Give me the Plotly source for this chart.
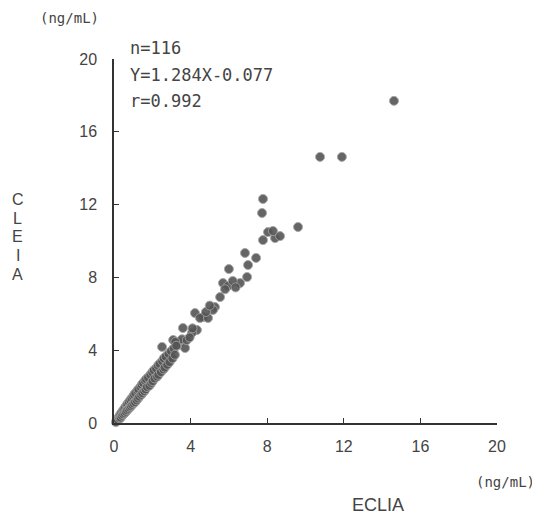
import plotly.graph_objects as go

# ECLIA (x) vs CLEIA (y), ng/mL, n=116
eclia = [
    14.62, 10.76, 11.90, 9.61, 7.78, 7.73, 8.04, 7.78, 8.41, 8.67, 8.30,
    6.84, 7.42, 7.00, 6.00, 6.95, 5.69, 5.95, 6.58, 5.54, 5.27, 5.17,
    4.23, 4.65, 4.49, 4.91, 3.60, 4.33, 4.07, 3.09, 3.45, 3.71, 2.51, 2.92,
    5.80, 6.20, 6.35, 4.80, 5.00,
    3.30, 3.55, 3.80, 4.10, 3.20, 3.95,
    0.10, 0.15, 0.20, 0.25, 0.30, 0.32, 0.35, 0.38, 0.42, 0.45, 0.48, 0.50,
    0.55, 0.58, 0.62, 0.66, 0.68, 0.70, 0.75, 0.78, 0.82, 0.85, 0.88, 0.92,
    0.95, 1.00, 1.02, 1.05, 1.10, 1.12, 1.18, 1.22, 1.25, 1.28, 1.32, 1.38,
    1.42, 1.45, 1.48, 1.52, 1.58, 1.62, 1.65, 1.68, 1.72, 1.78, 1.85, 1.90,
    1.95, 2.00, 2.02, 2.08, 2.12, 2.20, 2.25, 2.30, 2.32, 2.38, 2.45, 2.52,
    2.58, 2.60, 2.65, 2.70, 2.78, 2.85, 2.90, 2.98, 3.05, 3.12, 3.18, 3.25,
]
cleia = [
    17.70, 14.62, 14.62, 10.77, 12.31, 11.54, 10.49, 10.05, 10.16, 10.27, 10.55,
    9.34, 9.07, 8.68, 8.46, 8.02, 7.69, 7.53, 7.69, 6.92, 6.37, 6.21,
    6.04, 5.82, 5.77, 5.77, 5.22, 5.11, 4.95, 4.56, 4.40, 4.12, 4.18, 3.62,
    7.35, 7.80, 7.45, 6.10, 6.45,
    4.25, 4.60, 4.55, 5.20, 4.45, 4.70,
    0.05, 0.20, 0.15, 0.32, 0.25, 0.45, 0.30, 0.55, 0.40, 0.65, 0.48, 0.72,
    0.55, 0.85, 0.62, 0.95, 0.70, 1.05, 0.78, 1.15, 0.85, 1.25, 0.92, 1.35,
    1.00, 1.45, 1.08, 1.55, 1.15, 1.65, 1.25, 1.78, 1.35, 1.85, 1.45, 1.98,
    1.55, 2.10, 1.65, 2.20, 1.75, 2.32, 1.85, 2.40, 1.98, 2.50, 2.05, 2.65,
    2.20, 2.78, 2.30, 2.90, 2.45, 3.00, 2.55, 3.15, 2.65, 3.25, 2.80, 3.40,
    2.95, 3.55, 3.05, 3.65, 3.20, 3.80, 3.35, 3.95, 3.55, 4.10, 3.75, 4.25,
]

x_ticks = [0, 4, 8, 12, 16, 20]
y_ticks = [0, 4, 8, 12, 16, 20]
stats_lines = ["n=116", "Y=1.284X-0.077", "r=0.992"]
unit_label = "(ng/mL)"
x_title = "ECLIA"
y_title_letters = ["C", "L", "E", "I", "A"]

MONO = "DejaVu Sans Mono, Liberation Mono, monospace"
SANS = "Liberation Sans, Arial, sans-serif"
TXT = "#444444"

fig = go.Figure()
fig.add_trace(go.Scatter(
    x=eclia, y=cleia, mode="markers",
    marker=dict(size=9, color="#555555", opacity=0.9,
                line=dict(color="#a0a0a0", width=1)),
    cliponaxis=False, showlegend=False,
))

axis_common = dict(
    showgrid=False, zeroline=False, showline=True, linecolor="#333333",
    linewidth=1.5, ticks="inside", ticklen=5, tickwidth=1.2,
    tickcolor="#333333", tickfont=dict(family=SANS, size=16, color=TXT),
    range=[0, 20],
)
fig.update_xaxes(tickvals=x_ticks, ticklabelstandoff=8, **axis_common)
fig.update_yaxes(tickvals=y_ticks, ticklabelstandoff=12, **axis_common)

ann = []
ys = [1.03, 0.956, 0.885]
for t, yy in zip(stats_lines, ys):
    ann.append(dict(text=t, xref="paper", yref="paper", x=0.037, y=yy,
                    xanchor="left", yanchor="middle", showarrow=False,
                    font=dict(family=MONO, size=17, color=TXT)))
ann.append(dict(text=unit_label, xref="paper", yref="paper", x=-0.115, y=1.113,
                xanchor="center", yanchor="middle", showarrow=False,
                font=dict(family=MONO, size=14, color=TXT)))
ann.append(dict(text=unit_label, xref="paper", yref="paper", x=1.021, y=-0.162,
                xanchor="center", yanchor="middle", showarrow=False,
                font=dict(family=MONO, size=14, color=TXT)))
ann.append(dict(text=x_title, xref="paper", yref="paper", x=0.689, y=-0.225,
                xanchor="center", yanchor="middle", showarrow=False,
                font=dict(family=SANS, size=18, color=TXT)))
letter_y = [0.615, 0.563, 0.511, 0.459, 0.407]
for ch, ly in zip(y_title_letters, letter_y):
    ann.append(dict(text=ch, xref="paper", yref="paper",
                    x=-0.251, y=ly, xanchor="center", yanchor="middle",
                    showarrow=False,
                    font=dict(family=SANS, size=16, color=TXT)))

# page body has an 8px margin, so the figure is shrunk and margins shifted
fig.update_layout(
    width=532, height=507,
    margin=dict(l=106, r=43, t=51, b=92),
    plot_bgcolor="white", paper_bgcolor="white",
    annotations=ann,
)
fig.write_html("out.html")
